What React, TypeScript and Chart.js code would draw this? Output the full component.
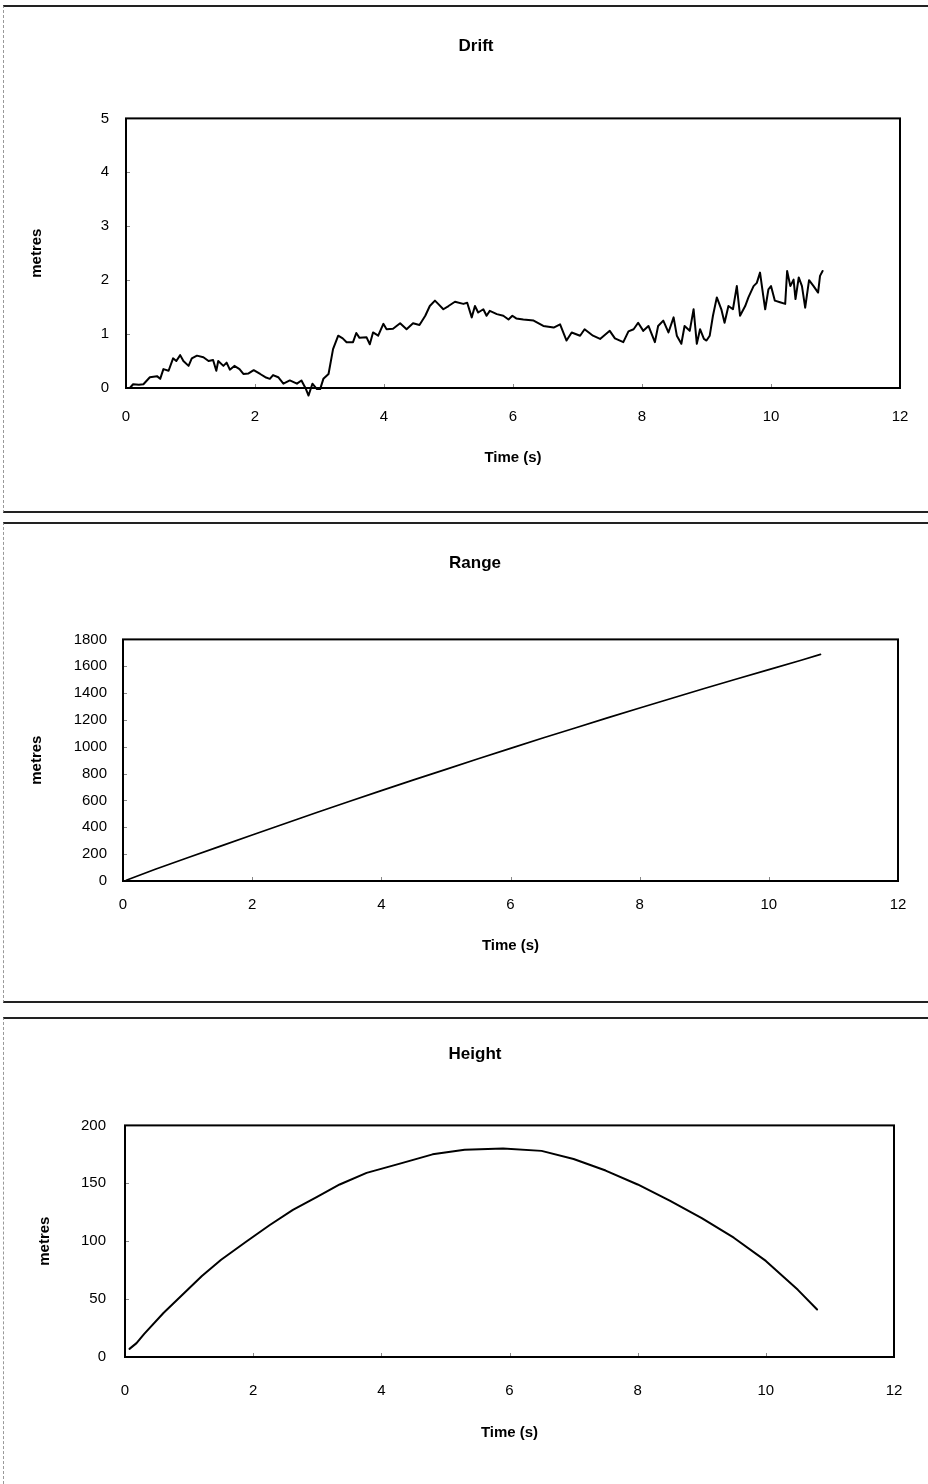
import React, { useEffect, useRef } from "react";
import { Chart, registerables } from "chart.js";

Chart.register(...registerables);

const FONT = "'Liberation Sans Narrow', 'Liberation Sans', Arial, sans-serif";
Chart.defaults.font.family = FONT;
Chart.defaults.color = "#000";

// ---------- data ----------
const timeAxisMax = 12;
const timeAxisStep = 2;

const driftTime = [
  0.06, 0.11, 0.2, 0.27, 0.37, 0.48, 0.53, 0.58, 0.66, 0.73, 0.78, 0.84, 0.89, 0.97, 1.02, 1.1, 1.2, 1.28, 1.35, 1.4,
  1.43, 1.51, 1.56, 1.61, 1.68, 1.76, 1.82, 1.9, 1.98, 2.08, 2.16, 2.23, 2.28, 2.36, 2.44, 2.54, 2.65, 2.72, 2.79, 2.83,
  2.89, 2.96, 3.01, 3.06, 3.14, 3.21, 3.29, 3.36, 3.42, 3.52, 3.57, 3.62, 3.73, 3.78, 3.83, 3.91, 3.99, 4.04, 4.14, 4.25,
  4.35, 4.45, 4.55, 4.64, 4.71, 4.79, 4.84, 4.92, 5.0, 5.1, 5.23, 5.29, 5.36, 5.41, 5.46, 5.54, 5.59, 5.64, 5.75, 5.85,
  5.93, 5.99, 6.05, 6.16, 6.32, 6.47, 6.63, 6.73, 6.83, 6.91, 7.04, 7.11, 7.24, 7.35, 7.5, 7.58, 7.71, 7.79, 7.87, 7.94,
  8.02, 8.1, 8.2, 8.25, 8.33, 8.41, 8.49, 8.54, 8.61, 8.66, 8.74, 8.8, 8.85, 8.9, 8.96, 9.0, 9.05, 9.1, 9.16, 9.23,
  9.28, 9.34, 9.41, 9.47, 9.52, 9.6, 9.65, 9.73, 9.78, 9.83, 9.88, 9.91, 9.96, 10.0, 10.06, 10.14, 10.22, 10.25, 10.3, 10.35,
  10.38, 10.43, 10.48, 10.53, 10.59, 10.66, 10.73, 10.76, 10.8,
];
const driftMetres = [
  0.0, 0.07, 0.06, 0.07, 0.2, 0.22, 0.17, 0.35, 0.32, 0.55, 0.5, 0.61, 0.5, 0.41, 0.55, 0.6, 0.57, 0.5, 0.52, 0.32,
  0.5, 0.41, 0.47, 0.34, 0.41, 0.35, 0.26, 0.27, 0.33, 0.26, 0.2, 0.17, 0.24, 0.2, 0.08, 0.14, 0.08, 0.14, -0.02, -0.14,
  0.08, -0.02, -0.02, 0.17, 0.26, 0.72, 0.97, 0.92, 0.85, 0.85, 1.02, 0.93, 0.94, 0.81, 1.03, 0.97, 1.19, 1.09, 1.1, 1.2,
  1.09, 1.2, 1.17, 1.34, 1.52, 1.62, 1.56, 1.46, 1.52, 1.6, 1.56, 1.58, 1.31, 1.52, 1.4, 1.46, 1.34, 1.43, 1.37, 1.34,
  1.27, 1.34, 1.29, 1.27, 1.25, 1.15, 1.12, 1.18, 0.88, 1.03, 0.97, 1.09, 0.97, 0.91, 1.06, 0.92, 0.85, 1.05, 1.09, 1.21,
  1.06, 1.15, 0.85, 1.15, 1.25, 1.03, 1.31, 0.97, 0.82, 1.15, 1.06, 1.46, 0.82, 1.09, 0.91, 0.88, 0.97, 1.34, 1.68, 1.46,
  1.21, 1.52, 1.46, 1.89, 1.34, 1.52, 1.68, 1.89, 1.95, 2.14, 1.71, 1.46, 1.83, 1.89, 1.62, 1.59, 1.56, 2.17, 1.89, 2.01,
  1.65, 2.05, 1.89, 1.49, 2.0, 1.89, 1.77, 2.08, 2.17,
];
const driftAxis = { min: 0, max: 5, step: 1 };

const rangeTime = [
  0.05, 0.5, 1.0, 1.5, 2.0, 2.5, 3.0, 3.5, 4.0, 4.5, 5.0, 5.5, 6.0, 6.5, 7.0, 7.5, 8.0, 8.5, 9.0, 9.5, 10.0, 10.5, 10.8,
];
const rangeMetres = [
  5, 87, 173, 258, 343, 427, 510, 592, 673, 753, 832, 911, 988, 1065, 1140, 1215, 1289, 1362, 1434, 1505, 1575, 1645, 1688,
];
const rangeAxis = { min: 0, max: 1800, step: 200 };

const heightTime = [
  0.07, 0.18, 0.3, 0.6, 0.9, 1.2, 1.5, 1.9, 2.26, 2.62, 2.99, 3.35, 3.77, 4.29, 4.8, 5.3, 5.9, 6.5, 7.0,
  7.5, 8.0, 8.5, 9.0, 9.5, 10.0, 10.5, 10.8,
];
const heightMetres = [
  7, 12, 20, 38, 54, 70, 84, 100, 114, 127, 138, 149, 159, 167, 175, 179, 180, 178, 171,
  161, 149, 135, 120, 103, 83, 58, 41,
];
const heightAxis = { min: 0, max: 200, step: 50 };

// ---------- chart helpers ----------
const framePlugin = {
  id: "frame",
  afterDatasetsDraw(chart: any) {
    const { ctx, chartArea: a, scales } = chart;
    ctx.save();
    ctx.strokeStyle = "#888";
    ctx.lineWidth = 1;
    scales.x.ticks.forEach((t: any) => {
      const px = Math.round(scales.x.getPixelForValue(t.value)) + 0.5;
      ctx.beginPath();
      ctx.moveTo(px, a.bottom);
      ctx.lineTo(px, a.bottom - 4);
      ctx.stroke();
    });
    scales.y.ticks.forEach((t: any) => {
      const py = Math.round(scales.y.getPixelForValue(t.value)) + 0.5;
      ctx.beginPath();
      ctx.moveTo(a.left, py);
      ctx.lineTo(a.left + 4, py);
      ctx.stroke();
    });
    ctx.strokeStyle = "#000";
    ctx.lineWidth = 2;
    ctx.strokeRect(a.left, a.top, a.right - a.left, a.bottom - a.top);
    ctx.restore();
  },
};

type Layout = {
  padLeft: number;
  padRight: number;
  titleTop: number;
  titleBottom: number;
  yWidth: number;
  yTickPad: number;
  yTitlePad: number;
  xHeight: number;
  xTickPad: number;
  xTitlePad: number;
  lineWidth: number;
};

function buildConfig(
  title: string,
  times: number[],
  values: number[],
  axis: { min: number; max: number; step: number },
  L: Layout
): any {
  return {
    type: "line",
    data: {
      datasets: [
        {
          data: times.map((t, i) => ({ x: t, y: values[i] })),
          borderColor: "#000",
          borderWidth: L.lineWidth,
          borderJoinStyle: "round",
          borderCapStyle: "round",
          pointRadius: 0,
          tension: 0,
          fill: false,
          clip: 12,
        },
      ],
    },
    options: {
      animation: false,
      responsive: false,
      devicePixelRatio: 1,
      layout: { padding: { left: L.padLeft, right: L.padRight, top: 0, bottom: 0 } },
      plugins: {
        legend: { display: false },
        tooltip: { enabled: false },
        title: {
          display: true,
          text: title,
          color: "#000",
          font: { family: FONT, size: 17, weight: "bold" },
          padding: { top: L.titleTop, bottom: L.titleBottom },
        },
      },
      scales: {
        x: {
          type: "linear",
          min: 0,
          max: timeAxisMax,
          grid: { display: false },
          border: { display: false },
          ticks: {
            stepSize: timeAxisStep,
            padding: L.xTickPad,
            color: "#000",
            font: { family: FONT, size: 15 },
            maxRotation: 0,
            callback: (v: any) => String(v),
          },
          title: {
            display: true,
            text: "Time (s)",
            color: "#000",
            font: { family: FONT, size: 15, weight: "bold" },
            padding: { top: 0, bottom: L.xTitlePad },
          },
          afterFit: (s: any) => {
            s.height = L.xHeight;
          },
        },
        y: {
          type: "linear",
          min: axis.min,
          max: axis.max,
          grid: { display: false },
          border: { display: false },
          ticks: {
            stepSize: axis.step,
            padding: L.yTickPad,
            color: "#000",
            font: { family: FONT, size: 15 },
            callback: (v: any) => String(v),
          },
          title: {
            display: true,
            text: "metres",
            color: "#000",
            font: { family: FONT, size: 15, weight: "bold" },
            padding: { top: L.yTitlePad, bottom: 0 },
          },
          afterFit: (s: any) => {
            s.width = L.yWidth;
          },
        },
      },
    },
    plugins: [framePlugin],
  };
}

function ChartCanvas({ top, height, config }: { top: number; height: number; config: any }) {
  const ref = useRef<HTMLCanvasElement>(null);
  useEffect(() => {
    const chart = new Chart(ref.current as HTMLCanvasElement, config);
    return () => chart.destroy();
  }, []);
  return (
    <canvas
      ref={ref}
      width={928}
      height={height}
      style={{ position: "absolute", left: 0, top, width: 928, height }}
    />
  );
}

const panels = [
  {
    top: 5,
    height: 508,
    bottomBorder: true,
    config: buildConfig("Drift", driftTime, driftMetres, driftAxis, {
      padLeft: 52,
      padRight: 28,
      titleTop: 31,
      titleBottom: 62,
      yWidth: 74,
      yTickPad: 9,
      yTitlePad: -24,
      xHeight: 125,
      xTickPad: 12,
      xTitlePad: 46,
      lineWidth: 2,
    }),
  },
  {
    top: 522,
    height: 481,
    bottomBorder: true,
    config: buildConfig("Range", rangeTime, rangeMetres, rangeAxis, {
      padLeft: 52,
      padRight: 30,
      titleTop: 31,
      titleBottom: 66,
      yWidth: 71,
      yTickPad: 8,
      yTitlePad: -24,
      xHeight: 122,
      xTickPad: 7,
      xTitlePad: 48,
      lineWidth: 1.7,
    }),
  },
  {
    top: 1017,
    height: 467,
    bottomBorder: false,
    config: buildConfig("Height", heightTime, heightMetres, heightAxis, {
      padLeft: 56,
      padRight: 34,
      titleTop: 27,
      titleBottom: 61,
      yWidth: 69,
      yTickPad: 11,
      yTitlePad: -20,
      xHeight: 127,
      xTickPad: 17,
      xTitlePad: 42,
      lineWidth: 2,
    }),
  },
];

export default function App() {
  return (
    <div style={{ position: "absolute", left: 0, top: 0, width: 928, height: 1484, background: "#fff", overflow: "hidden" }}>
      {panels.map((p, i) => (
        <div
          key={"b" + i}
          style={{
            position: "absolute",
            left: 3,
            top: p.top,
            width: 940,
            height: p.height,
            boxSizing: "border-box",
            borderTop: "2px solid #222",
            borderLeft: "1px dashed #999",
            borderBottom: p.bottomBorder ? "2px solid #222" : "none",
          }}
        />
      ))}
      {panels.map((p, i) => (
        <ChartCanvas key={"c" + i} top={p.top} height={p.height} config={p.config} />
      ))}
    </div>
  );
}
